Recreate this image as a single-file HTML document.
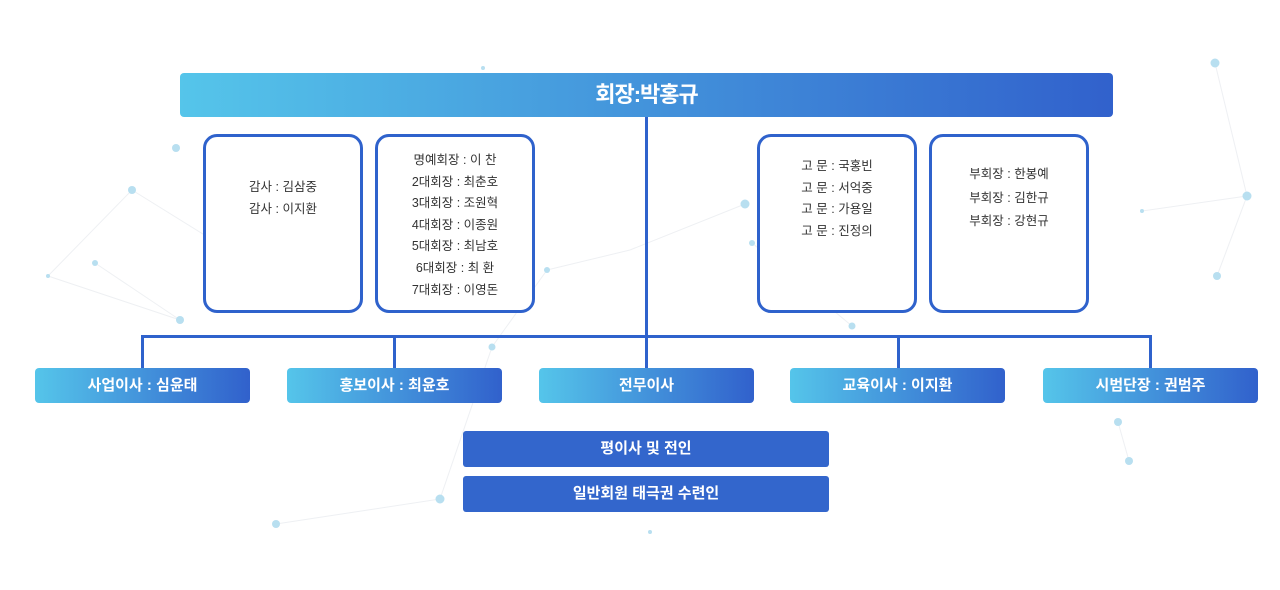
<!DOCTYPE html>
<html><head><meta charset="utf-8"><style>
body{margin:0;width:1280px;height:590px;background:#fff;position:relative;overflow:hidden;font-family:"Liberation Sans","Noto Sans CJK KR",sans-serif}
.a{position:absolute}
.top{left:180px;top:73px;width:933px;height:44px;border-radius:4px;background:linear-gradient(90deg,#55c5ea,#3161cc);color:#fff;font-size:22px;font-weight:bold;text-align:center;line-height:44px;letter-spacing:-1px}
.ln{background:#2f62cc}
.box{top:134px;width:154px;height:173px;border:3px solid #2f62cc;border-radius:14px;background:#fff;font-size:12.5px;color:#333;text-align:center;line-height:21.6px}
.g{top:368px;width:215px;height:35px;border-radius:4px;background:linear-gradient(90deg,#55c5ea,#3161cc);color:#fff;font-size:15px;font-weight:bold;text-align:center;line-height:35px}
.s{left:463px;width:366px;height:36px;border-radius:3px;background:#3366cc;color:#fff;font-size:15px;font-weight:bold;text-align:center;line-height:36px}
</style></head><body>
<svg class="a" style="left:0;top:0" width="1280" height="590">
<g stroke="#eef0f3" stroke-width="1">
<line x1="48" y1="276" x2="132" y2="190"/><line x1="48" y1="276" x2="180" y2="320"/><line x1="132" y1="190" x2="248" y2="262"/><line x1="95" y1="263" x2="180" y2="320"/>
<line x1="492" y1="347" x2="547" y2="270"/><line x1="547" y1="270" x2="630" y2="250"/><line x1="745" y1="204" x2="630" y2="250"/><line x1="852" y1="326" x2="752" y2="243"/>
<line x1="1215" y1="63" x2="1247" y2="196"/><line x1="1247" y1="196" x2="1217" y2="276"/><line x1="1142" y1="211" x2="1247" y2="196"/><line x1="1118" y1="422" x2="1129" y2="461"/>
<line x1="276" y1="524" x2="440" y2="499"/><line x1="440" y1="499" x2="492" y2="347"/>
</g>
<g fill="#b8dff0">
<circle cx="176" cy="148" r="4"/><circle cx="132" cy="190" r="4"/><circle cx="95" cy="263" r="3"/><circle cx="48" cy="276" r="2"/><circle cx="180" cy="320" r="4"/>
<circle cx="492" cy="347" r="3.5"/><circle cx="547" cy="270" r="3"/><circle cx="745" cy="204" r="4.5"/><circle cx="752" cy="243" r="3"/><circle cx="852" cy="326" r="3.5"/>
<circle cx="1215" cy="63" r="4.5"/><circle cx="1247" cy="196" r="4.5"/><circle cx="1217" cy="276" r="4"/><circle cx="1142" cy="211" r="2"/><circle cx="1079" cy="146" r="2.5"/>
<circle cx="1118" cy="422" r="4"/><circle cx="1129" cy="461" r="4"/><circle cx="276" cy="524" r="4"/><circle cx="440" cy="499" r="4.5"/><circle cx="483" cy="68" r="2"/><circle cx="650" cy="532" r="2"/>
</g></svg>
<div class="a top">회장:박홍규</div>
<div class="a ln" style="left:645px;top:117px;width:3px;height:251px"></div>
<div class="a ln" style="left:141px;top:335px;width:1011px;height:3px"></div>
<div class="a ln" style="left:141px;top:335px;width:3px;height:33px"></div>
<div class="a ln" style="left:393px;top:335px;width:3px;height:33px"></div>
<div class="a ln" style="left:897px;top:335px;width:3px;height:33px"></div>
<div class="a ln" style="left:1149px;top:335px;width:3px;height:33px"></div>
<div class="a box" style="left:203px"><div style="padding-top:40px">감사 : 김삼중<br>감사 : 이지환</div></div>
<div class="a box" style="left:375px"><div style="padding-top:13px">명예회장 : 이 찬<br>2대회장 : 최춘호<br>3대회장 : 조원혁<br>4대회장 : 이종원<br>5대회장 : 최남호<br>6대회장 : 최 환<br>7대회장 : 이영돈</div></div>
<div class="a box" style="left:757px"><div style="padding-top:19px">고 문 : 국홍빈<br>고 문 : 서억중<br>고 문 : 가용일<br>고 문 : 진정의</div></div>
<div class="a box" style="left:929px"><div style="padding-top:26px;line-height:23.5px">부회장 : 한봉예<br>부회장 : 김한규<br>부회장 : 강현규</div></div>
<div class="a g" style="left:35px">사업이사 : 심윤태</div>
<div class="a g" style="left:287px">홍보이사 : 최윤호</div>
<div class="a g" style="left:539px">전무이사</div>
<div class="a g" style="left:790px">교육이사 : 이지환</div>
<div class="a g" style="left:1043px">시범단장 : 권범주</div>
<div class="a s" style="top:431px">평이사 및 전인</div>
<div class="a s" style="top:476px">일반회원 태극권 수련인</div>
</body></html>
